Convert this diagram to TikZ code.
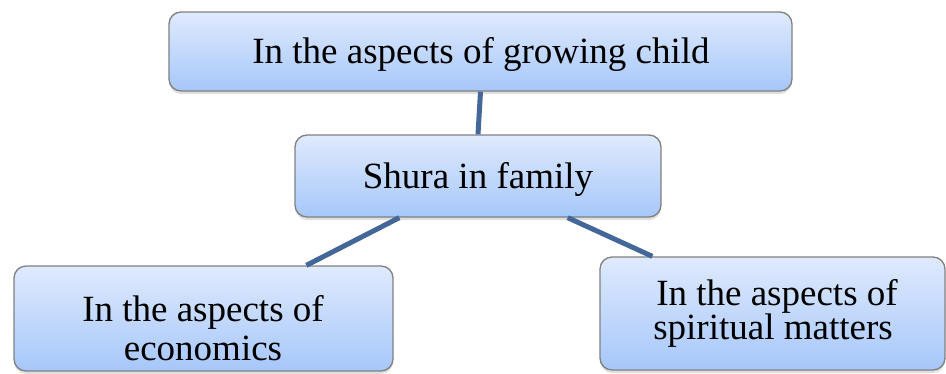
\documentclass[tikz,border=0pt]{standalone}
\usepackage{fontspec}
\setmainfont{Liberation Serif}
\usetikzlibrary{shadows}
\definecolor{boxtop}{RGB}{223,234,253}
\definecolor{boxbot}{RGB}{166,199,250}
\definecolor{boxedge}{RGB}{128,128,128}
\definecolor{linkcol}{RGB}{68,103,154}
\tikzset{
  box/.style={draw=boxedge, line width=1.3pt, rounded corners=12pt,
    top color=boxtop, bottom color=boxbot, inner sep=0pt,
    drop shadow={shadow xshift=0pt, shadow yshift=-3pt, opacity=0.25}},
  link/.style={draw=linkcol, line width=5pt},
  lbl/.style={font=\fontsize{37}{39}\selectfont, inner sep=0pt, anchor=base}
}
\begin{document}
\begin{tikzpicture}[x=1pt,y=-1pt]
\useasboundingbox (0,0) rectangle (946,373);
% boxes
\node[box, minimum width=623pt, minimum height=79pt] (top) at (480.5,51.5) {};
\node[box, minimum width=366pt, minimum height=82pt] (mid) at (478,176) {};
\node[box, minimum width=379pt, minimum height=105pt] (left) at (203.5,318.5) {};
\node[box, minimum width=345pt, minimum height=113pt] (right) at (772.5,313.5) {};
% connectors
\draw[link] (top.south) -- (mid.north);
\draw[link] ([xshift=105pt]mid.south west) -- ([xshift=293pt]left.north west);
\draw[link] ([xshift=-94pt]mid.south east) -- ([xshift=53pt]right.north west);
% texts
\node[lbl] (ttop) at (481,63) {In the aspects of growing child};
\node[lbl] (tmid) at (478,188) {Shura in family};
\node[lbl] (tl1) at (203,321) {In the aspects of};
\node[lbl] (tl2) at (203,360) {economics};
\node[lbl] (tr1) at (777,305) {In the aspects of};
\node[lbl] (tr2) at (773,339) {spiritual matters};
\end{tikzpicture}
\end{document}
